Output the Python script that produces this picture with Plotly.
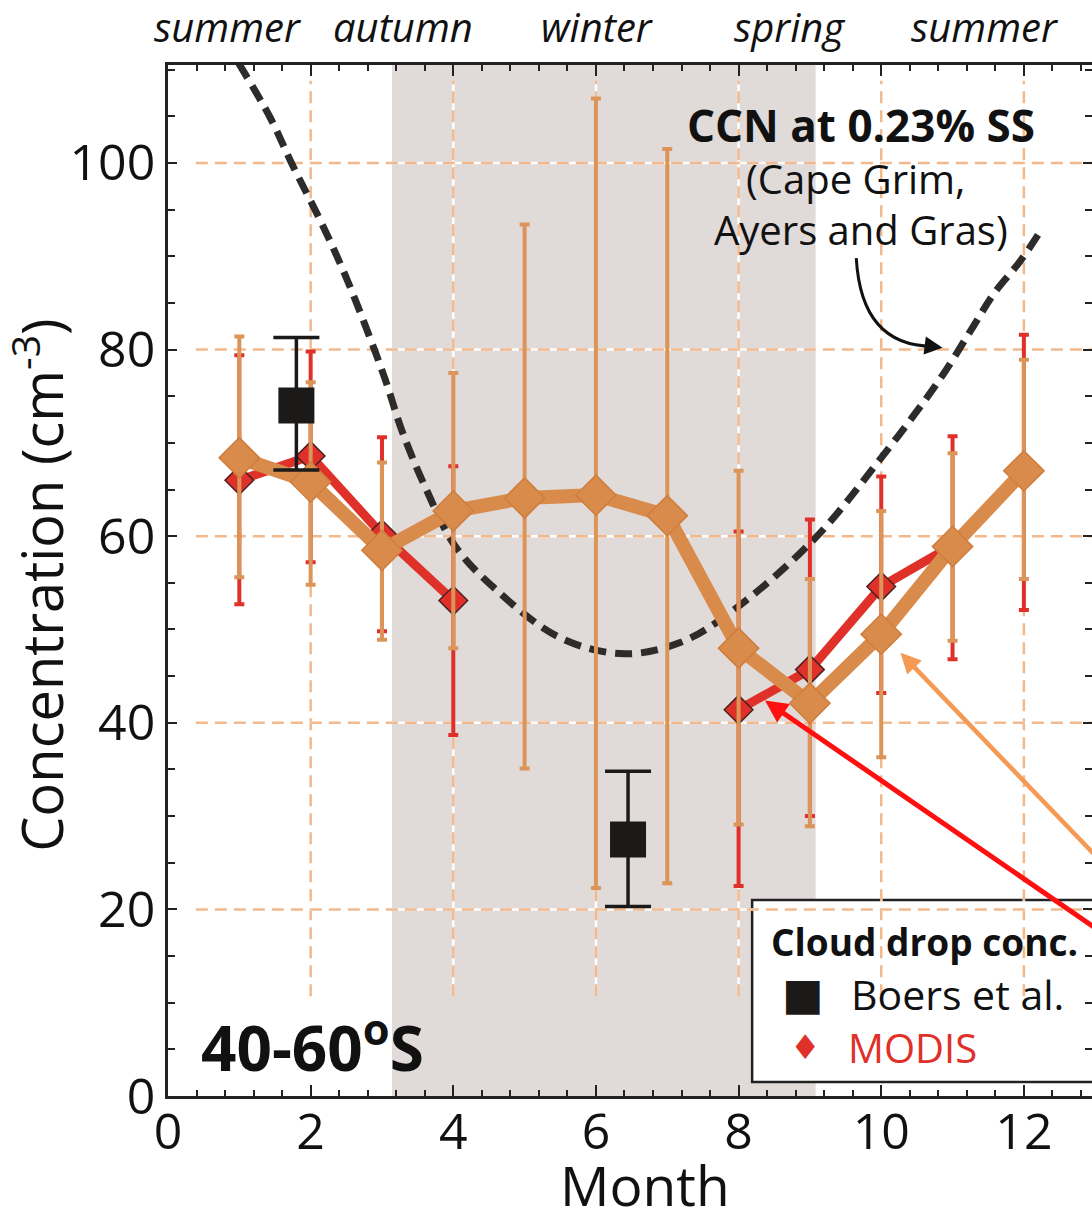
import plotly.graph_objects as go

# ---------------- data ----------------
months = [1, 2, 3, 4, 5, 6, 7, 8, 9, 10, 11, 12]

# orange (thick) series with error bars
orange_y = [68.4, 65.8, 58.5, 62.7, 64.1, 64.4, 62.2, 48.0, 42.1, 49.5, 58.9, 67.0]
orange_hi = [81.4, 76.5, 67.9, 77.5, 93.4, 106.9, 101.5, 67.0, 55.4, 62.7, 68.9, 78.9]
orange_lo = [55.6, 54.8, 48.9, 48.0, 35.1, 22.3, 22.8, 29.1, 28.9, 36.3, 48.8, 55.4]

# MODIS (red) series, no data in winter months
modis_y = [66.0, 68.6, 60.2, 53.1, None, None, None, 41.4, 45.7, 54.6, 59.0, 67.0]
modis_hi = [79.4, 79.8, 70.6, 67.5, None, None, None, 60.5, 61.8, 66.4, 70.7, 81.6]
modis_lo = [52.7, 57.2, 49.8, 38.7, None, None, None, 22.5, 30.0, 43.2, 46.8, 52.1]

# Boers et al.
boers_x = [1.8, 6.45]
boers_y = [74.0, 27.5]
boers_hi = [81.3, 34.8]
boers_lo = [67.1, 20.3]

# CCN at 0.23% SS (Cape Grim)
ccn_x = [0.99, 1.43, 1.75, 2.125, 2.45, 2.77, 3.05, 3.28, 3.61, 4.02, 4.58, 5.5,
         6.4, 7.18, 7.88, 9.05, 9.98, 10.82, 11.3, 11.57, 11.94, 12.2]
ccn_y = [110.7, 104.9, 99.7, 94.0, 88.6, 82.5, 76.7, 71.3, 65.2, 59.0, 54.4, 49.1,
         47.4, 48.6, 51.8, 59.6, 68.2, 76.8, 82.6, 85.9, 89.4, 92.3]

seasons = ["summer", "autumn", "winter", "spring", "summer"]
season_x = [0.84, 3.3, 6.02, 8.72, 11.46]

x_ticks = [0, 2, 4, 6, 8, 10, 12]
y_ticks = [0, 20, 40, 60, 80, 100]

winter_span = [3.14, 9.08]

# ---------------- style ----------------
FONT = "Open Sans"
ORANGE = "#d98b4b"
ORANGE_ERR = "#dc9559"
RED = "#e0302a"
BLACK = "#1c1a19"
GRID = "#f2b98c"
SHADE = "#e0dad8"


def err_arrays(y, hi, lo):
    plus = [None if v is None else h - v for v, h in zip(y, hi)]
    minus = [None if v is None else v - l for v, l in zip(y, lo)]
    return plus, minus


fig = go.Figure()

# CCN dashed curve
fig.add_trace(go.Scatter(
    x=ccn_x, y=ccn_y, mode="lines",
    line=dict(color="#2e2c2b", width=7, dash="17px,9px", shape="spline", smoothing=1.0),
    hoverinfo="skip", showlegend=False))

# MODIS red
mp, mm = err_arrays(modis_y, modis_hi, modis_lo)
fig.add_trace(go.Scatter(
    x=months, y=modis_y, mode="lines+markers", connectgaps=False,
    line=dict(color=RED, width=9),
    marker=dict(symbol="diamond", size=22, color=RED, line=dict(color="#4a2020", width=1.5)),
    error_y=dict(type="data", symmetric=False, array=mp, arrayminus=mm,
                 color=RED, thickness=4, width=5),
    showlegend=False))

# Orange series
op, om = err_arrays(orange_y, orange_hi, orange_lo)
fig.add_trace(go.Scatter(
    x=months, y=orange_y, mode="lines+markers",
    line=dict(color=ORANGE, width=14),
    marker=dict(symbol="diamond", size=31, color=ORANGE, line=dict(color="#cf7d3c", width=1.5)),
    error_y=dict(type="data", symmetric=False, array=op, arrayminus=om,
                 color=ORANGE_ERR, thickness=4, width=5),
    showlegend=False))

# Boers et al.
bp, bm = err_arrays(boers_y, boers_hi, boers_lo)
fig.add_trace(go.Scatter(
    x=boers_x, y=boers_y, mode="markers",
    marker=dict(symbol="square", size=36, color=BLACK),
    error_y=dict(type="data", symmetric=False, array=bp, arrayminus=bm,
                 color=BLACK, thickness=3.5, width=23),
    showlegend=False))

shapes = []
# winter shading
shapes.append(dict(type="rect", xref="x", yref="paper", x0=winter_span[0], x1=winter_span[1],
                   y0=0, y1=1, fillcolor=SHADE, line=dict(width=0), layer="below"))
# legend box
shapes.append(dict(type="rect", xref="x", yref="y", x0=8.19, x1=13.6, y0=1.5, y1=21.0,
                   fillcolor="white", line=dict(color="#222", width=2.5), layer="below"))
# grid lines (white under orange dashes)
for gx in x_ticks[1:]:
    for col, dash, w in (("white", "solid", 2.5), (GRID, "12px,7px", 2.5)):
        shapes.append(dict(type="line", xref="x", yref="y", x0=gx, x1=gx, y0=10.7, y1=108.8,
                           line=dict(color=col, width=w, dash=dash), layer="below"))
for gy in y_ticks[1:]:
    for col, dash, w in (("white", "solid", 2.5), (GRID, "12px,7px", 2.5)):
        shapes.append(dict(type="line", xref="x", yref="y", x0=0.39, x1=13.2, y0=gy, y1=gy,
                           line=dict(color=col, width=w, dash=dash), layer="below"))
# curved arrow to CCN curve
shapes.append(dict(type="path", xref="x", yref="y",
                   path="M 9.65,89.8 Q 9.72,80.4 10.72,80.35",
                   line=dict(color="#111", width=3), layer="above"))

annotations = []
for s, sx in zip(seasons, season_x):
    annotations.append(dict(text=f"<i>{s}</i>", x=sx, y=1.037, xref="x", yref="paper",
                            yanchor="middle", showarrow=False,
                            font=dict(family=FONT, size=40, color="#111")))

annotations += [
    dict(text="<b>CCN at 0.23% SS</b>", x=9.71, y=104.1, xref="x", yref="y", showarrow=False,
         font=dict(family=FONT, size=44, color="#111")),
    dict(text="(Cape Grim,", x=9.64, y=98.3, xref="x", yref="y", showarrow=False,
         font=dict(family=FONT, size=40, color="#111")),
    dict(text="Ayers and Gras)", x=9.71, y=92.9, xref="x", yref="y", showarrow=False,
         font=dict(family=FONT, size=40, color="#111")),
    # arrow head of curved arrow
    dict(text="", x=10.86, y=80.2, ax=10.6, ay=80.45, xref="x", yref="y", axref="x", ayref="y",
         showarrow=True, arrowhead=2, arrowsize=1.2, arrowwidth=3, arrowcolor="#111"),
    # red arrow
    dict(text="", x=8.37, y=42.4, ax=13.4, ay=15.9, xref="x", yref="y", axref="x", ayref="y",
         showarrow=True, arrowhead=2, arrowsize=0.9, arrowwidth=5, arrowcolor="#ff1010"),
    # orange arrow
    dict(text="", x=10.27, y=47.5, ax=13.4, ay=22.6, xref="x", yref="y", axref="x", ayref="y",
         showarrow=True, arrowhead=2, arrowsize=0.9, arrowwidth=4.5, arrowcolor="#f59a55"),
    dict(text="<b>40-60<sup>o</sup>S</b>", x=2.03, y=5.6, xref="x", yref="y", showarrow=False,
         font=dict(family=FONT, size=62, color="#111")),
    # legend content
    dict(text="<b>Cloud drop conc.</b>", x=8.42, y=16.6, xref="x", yref="y", showarrow=False,
         xanchor="left", font=dict(family=FONT, size=37, color="#111")),
    dict(text="■", x=8.9, y=11.0, xref="x", yref="y", showarrow=False,
         font=dict(family="DejaVu Sans", size=44, color=BLACK)),
    dict(text="Boers et al.", x=9.55, y=10.9, xref="x", yref="y", showarrow=False,
         xanchor="left", font=dict(family=FONT, size=41, color="#111")),
    dict(text="♦", x=8.93, y=5.3, xref="x", yref="y", showarrow=False,
         font=dict(family="DejaVu Sans", size=34, color=RED)),
    dict(text="MODIS", x=9.5, y=5.2, xref="x", yref="y", showarrow=False,
         xanchor="left", font=dict(family=FONT, size=40, color=RED)),
    # axis titles
    dict(text="Month", x=6.69, y=-0.0855, xref="x", yref="paper", yanchor="middle",
         showarrow=False, font=dict(family=FONT, size=55, color="#111")),
    dict(text="Concentration (cm<sup>-3</sup>)", x=-0.14, y=0.4956, xref="paper", yref="paper",
         xanchor="center", yanchor="middle", textangle=-90,
         showarrow=False, font=dict(family=FONT, size=56, color="#111")),
]

fig.update_layout(
    width=1092, height=1208,
    margin=dict(l=168, r=0, t=65, b=112, autoexpand=False),
    paper_bgcolor="white", plot_bgcolor="white",
    shapes=shapes, annotations=annotations,
    font=dict(family=FONT, color="#111"),
)

fig.update_xaxes(
    range=[0, 12.955], tickvals=x_ticks, ticktext=[str(v) for v in x_ticks],
    showgrid=False, zeroline=False, automargin=False,
    showline=True, linecolor="#222", linewidth=2.5, mirror="ticks",
    ticks="inside", ticklen=11, tickwidth=2, tickcolor="#222",
    minor=dict(dtick=0.4, tick0=0, ticks="inside", ticklen=6, tickwidth=2, tickcolor="#222"),
    tickfont=dict(family=FONT, size=50, color="#111"),
    ticklabelstandoff=-10,
)
fig.update_yaxes(
    range=[0, 110.5], tickvals=y_ticks, ticktext=[str(v) for v in y_ticks],
    showgrid=False, zeroline=False, automargin=False,
    showline=True, linecolor="#222", linewidth=2.5, mirror="ticks",
    ticks="inside", ticklen=9, tickwidth=2, tickcolor="#222",
    minor=dict(dtick=5, tick0=0, ticks="inside", ticklen=7, tickwidth=2, tickcolor="#222"),
    tickfont=dict(family=FONT, size=50, color="#111"),
)

fig.write_html("out.html", config={"displayModeBar": False},
               post_script="document.body.style.margin='0';document.body.style.overflow='hidden';")
